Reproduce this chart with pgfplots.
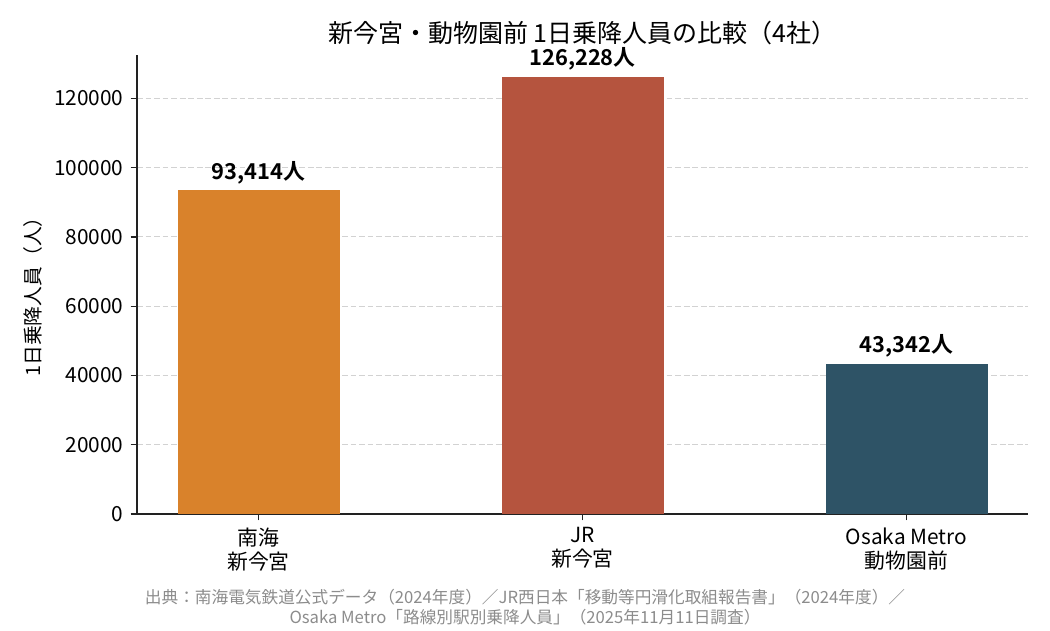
\documentclass[border=0pt]{standalone}
\usepackage{fontspec}
\setmainfont{Noto Sans CJK JP}[BoldFont={Noto Sans CJK JP Bold}]
\usepackage{pgfplots}
\pgfplotsset{compat=1.18}
\definecolor{cNankai}{RGB}{217,130,43}
\definecolor{cJR}{RGB}{181,84,62}
\definecolor{cMetro}{RGB}{46,83,102}
\definecolor{axcol}{RGB}{34,34,34}
\newcommand{\fs}[2]{\fontsize{#1}{#2}\selectfont}
\begin{document}
\begin{tikzpicture}[x=0.48pt,y=0.48pt]
\path[use as bounding box] (0,0) rectangle (1050,630);
\begin{axis}[
  at={(65.76pt,55.68pt)}, anchor=south west,
  scale only axis, width=427.68pt, height=220.32pt,
  xmin=-0.375, xmax=2.375, ymin=0, ymax=132539,
  axis x line*=bottom, axis y line*=left,
  axis line style={axcol, line width=0.6pt},
  tick align=outside, major tick length=3pt,
  tick style={axcol, line width=0.6pt},
  xtick={0,1,2},
  xticklabels={南海\\新今宮, JR\\新今宮, Osaka Metro\\動物園前},
  xticklabel style={align=center, font=\fs{10}{11.5}},
  ytick={0,20000,40000,60000,80000,100000,120000},
  yticklabels={0,20000,40000,60000,80000,100000,120000},
  scaled y ticks=false,
  yticklabel style={font=\fs{10}{12}},
  ymajorgrids, grid style={gray!35, line width=0.5pt, dash pattern=on 2.8pt off 1.3pt},
  ybar, bar width=0.5, bar shift=0pt,
  point meta=explicit symbolic,
  nodes near coords,
  nodes near coords style={font=\bfseries\fs{10.5}{12.5}, black, anchor=south, yshift=-0.5pt},
  every axis plot/.append style={draw=none},
]
\addplot[fill=cNankai] coordinates {(0,93414) [93{,}414人]};
\addplot[fill=cJR] coordinates {(1,126228) [126{,}228人]};
\addplot[fill=cMetro] coordinates {(2,43342) [43{,}342人]};
\end{axis}
\node[font=\fs{12}{14}] at (582.5,597) {新今宮・動物園前 1日乗降人員の比較（4社）};
\node[font=\fs{9.5}{11}, rotate=90] at (33,338) {1日乗降人員（人）};
\node[font=\fs{8}{9.6}, text=gray!90, align=center] at (525,23) {出典：南海電気鉄道公式データ（2024年度）／JR西日本「移動等円滑化取組報告書」（2024年度）／\\Osaka Metro「路線別駅別乗降人員」（2025年11月11日調査）};
\end{tikzpicture}
\end{document}
